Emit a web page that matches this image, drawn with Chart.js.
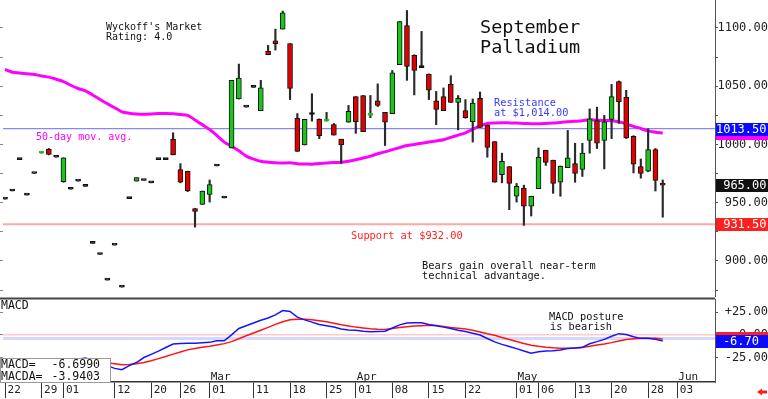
<!DOCTYPE html>
<html>
<head>
<meta charset="utf-8">
<title>September Palladium</title>
<script src="https://cdn.jsdelivr.net/npm/chart.js@4.4.1/dist/chart.umd.min.js"></script>
<style>
html,body{margin:0;padding:0;background:#fff;overflow:hidden;}
#wrap{position:relative;width:768px;height:399px;background:#fff;}
canvas{position:absolute;left:0;display:block;}
#price{top:0;}
#macd{top:297px;}
</style>
</head>
<body>
<div id="wrap">
<canvas id="price" width="768" height="297"></canvas>
<canvas id="macd" width="768" height="102"></canvas>
</div>
<script>
// ---------------- DATA ----------------
const openP = [953,960,987,956.5,975,992.5,996,989,968,961.5,
  968.5,964,915,905.5,883.5,913.5,877.5,953.5,968.5,969,
  967,987,987,1004.5,978.5,977,945,948.5,957,981.5,
  954,997,1039,1032,1049,1029,1080,1089,1099,1086.5,
  1022.5,999.5,1025.7,1021.5,1020,1017,1004.5,1019,1041,1042,
  1025,1037.5,1027.5,1026.5,1068.5,1102,1076.5,1066,1060.5,1037.5,
  1041,1051.5,1036,1029,1019.5,1039.5,1016.5,1002.5,974,981,
  955.5,962.5,947,962,995,986.5,967.5,980,983.5,978.5,
  1003.5,1020.5,1003.5,1021.5,1054,1040.5,1007,981,977,995.5,966.5];
const highP = [953,960,987,956.5,975,993.5,996.5,989,988.5,961.5,
  968.5,964,915,905.5,883.5,913.5,877.5,953.5,971.5,969,
  967,987,987,1010,983.5,977,945,960,969.5,981.5,
  954,1055,1069,1032,1049,1055,1085,1099,1114.5,1086.5,
  1026.5,1021.5,1043.5,1022,1027.5,1018,1004.5,1033.5,1041,1042,
  1042,1052,1027.5,1063.5,1105.5,1115,1077,1097,1060.5,1045.5,
  1048.5,1059,1042,1038.5,1039,1045,1016.5,1002.5,992.5,981,
  966.5,965,955.5,997,995,986.5,981.5,1012,1001,1001,
  1030.5,1032,1025,1051.5,1054.5,1046.5,1007.5,987.5,1013.5,996.5,969.5];
const lowP = [953,960,987,956.5,975,992.5,991,989,967.5,961.5,
  968.5,964,915,905.5,883.5,913.5,877.5,953.5,968.5,969,
  967,987,987,991,967,959.5,929,948.5,950.5,981.5,
  954,997,1039,1032,1049,1029,1077,1081,1099,1038.5,
  994,999.5,1020,1005,1020,1008,983.5,1019,1009.5,1011,
  1023,1032.5,999,1026.5,1068.5,1055,1042.5,1066,1038.5,1017,
  1029,1036,1012.5,1022.5,1002,1014.5,989,967.5,967,944,
  950.5,930.5,938.5,962,982,958,955.5,980,967.5,972.5,
  992.5,996.5,979,1005,1018,1005,975.5,971,976.5,960,937.5];
const closeP = [953,960,987,956.5,975,993.5,991.5,989,988.5,961.5,
  968.5,964,915,905.5,883.5,913.5,877.5,953.5,971.5,969,
  967,987,987,991,967.5,960,942.5,960,965.5,981.5,
  954,1055,1057,1032,1049,1048.5,1077,1086.5,1113,1048,
  994,1021.5,1025.7,1007.5,1021,1008,999.5,1028.5,1019.5,1011,
  1026,1033.5,1019,1061.5,1105.5,1067,1063.5,1066,1046.5,1030,
  1029,1036,1039.5,1023,1035.5,1014.5,997.5,967.5,985.5,966.5,
  964,947,955.5,989,984.5,966.5,981.5,988.5,975,992.5,
  1022,1001,1019.5,1041,1036.5,1005.5,983,975,995.5,969,965];
const ma50 = [1064.3,1062,1061.3,1060.6,1060,1058.8,1057.8,1056,1054,1050.8,
  1048,1046,1042.5,1038.6,1035,1031.5,1028,1026.8,1026.2,1026,
  1026.2,1026.5,1026.6,1026.3,1025.7,1025,1021,1017,1012.8,1007.5,
  1002,998.5,994.5,990,987.5,985.5,984.7,984.2,984,984.2,
  983.5,983.2,983,983.6,984,984.5,984.6,985.6,986.8,988.3,
  990,992,993.6,995.5,997.3,999,1000,1001,1002,1003,
  1004,1006,1008,1010,1013,1016,1018,1018.4,1018.6,1018.5,
  1018.3,1018,1017.8,1017.7,1018,1018.3,1018.9,1019.4,1019.8,1020.3,
  1021.2,1020.8,1020.5,1020.4,1019.5,1017.6,1015.5,1013.7,1011.6,1010.5,1009.7];
const macdLine = [-45,-43,-40,-38,-36,-34,-32,-31,-29,-28,
  -27,-25.5,-28,-31,-34,-37,-38.4,-34,-30.5,-25,
  -21.5,-18,-14,-10.1,-9.6,-9.4,-9.2,-8.8,-8.3,-6.5,
  -6.5,0,7,10,13,16,18.5,22,26.8,25.8,
  19.5,16.5,14,11.4,10,8.6,6.5,5.3,5.1,4,
  3.3,3.6,4,7.5,11,13,13.4,13.4,11.5,10,
  8.5,7,5,3.6,1.8,-0.2,-4,-7.8,-10.5,-12.8,
  -15.2,-17.8,-20.2,-18.6,-17.7,-17.5,-16.6,-15.2,-14.5,-13.8,
  -9.8,-7.5,-5,-1.5,1.3,0.3,-2.2,-3.9,-3.9,-5,-6.7];
const macdSignal = [-40,-39.5,-39,-38.5,-38,-37,-36,-35.5,-34.5,-34,
  -33,-32.5,-32,-31.5,-31,-32,-33,-32.8,-32,-30.5,
  -28.5,-26.2,-23.8,-21.3,-19,-16.6,-15,-13.6,-12.6,-11.2,
  -9.7,-7.5,-4.3,-1,2,5,8.2,11.5,14.5,16.5,
  17.1,17.1,16.6,15.4,14.3,12.8,11.1,9.8,8.5,7.6,
  6.8,6.2,5.9,7,8,8.8,9.6,10.1,10.5,10.2,
  9.1,8,7.2,6.4,5,3.2,1.2,-0.5,-3,-5.2,
  -7.4,-9.5,-11.4,-12.7,-13.6,-14.3,-14.7,-14.8,-14.6,-14,
  -12.7,-11.2,-10,-8.6,-6.8,-5.2,-4.3,-3.9,-3.8,-3.9,-4.5];
const dateTickIndex = [0,5,8,15,20,24,28,34,39,44,48,53,58,63,70,73,78,83,88,92];
const dateTickLabels = ['22','29','01','12','20','26','01','11','18','25','01','08','15','22','01','06','13','20','28','03'];
const monthIndex = [8,28,48,70,92];
const monthLabels = ['Feb','Mar','Apr','May','Jun'];
const priceTickValues = [875,900,925,950,975,1000,1025,1050,1075,1100];
const macdTickValues = [-25,0,25];
const resistanceLevel = 1013.5;
const supportLevel = 931.5;
const lastSettle = 965.0;
const macdLast = -6.6990;
const macdaLast = -3.9403;

// ---------------- LAYOUT / STYLE ----------------
const X_MIN = -0.274, X_MAX = 97.15;
const MONO = '"DejaVu Sans Mono", "Liberation Mono", monospace';
Chart.defaults.font.family = MONO;
Chart.defaults.color = '#222';

const idx = closeP.map((_, i) => i);
const bodyData = idx.map(i => ({x: i, y: [openP[i], closeP[i]]}));
const wickData = idx.map(i => ({x: i, y: [lowP[i], highP[i]]}));
const GREEN = '#1ec41e', RED = '#e00000';
function bodyColor(i) {
  const d = closeP[i] - openP[i];
  if (d > 0) return GREEN;
  if (d < 0) return RED;
  return '#111';
}
function bodyBorder(i) {
  const d = closeP[i] - openP[i];
  if (d > 0 && d < 2) return GREEN;
  return '#111';
}
function txt(ctx, s, x, y, color, size, align) {
  ctx.fillStyle = color;
  ctx.font = size + 'px ' + MONO;
  ctx.textAlign = align || 'left';
  ctx.textBaseline = 'middle';
  ctx.fillText(s, x, y);
}
function axisBox(ctx, y, bg, label, rightX) {
  ctx.fillStyle = bg;
  ctx.fillRect(716, Math.round(y) - 6, 52, 13);
  if (label) txt(ctx, label, rightX, Math.round(y) + 0.5, '#fff', 12, 'right');
}
function hLine(v) { return [{x: X_MIN, y: v}, {x: X_MAX, y: v}]; }

const priceDeco = {
  id: 'priceDeco',
  afterDraw(chart) {
    const ctx = chart.ctx, ys = chart.scales.y;
    ctx.save();
    txt(ctx, "Wyckoff's Market", 106, 27, '#111', 10);
    txt(ctx, 'Rating: 4.0', 106, 37, '#111', 10);
    txt(ctx, 'September', 480, 28.5, '#111', 18.5);
    txt(ctx, 'Palladium', 480, 48, '#111', 18.5);
    txt(ctx, '50-day mov. avg.', 36, 137.5, '#ff00ff', 10);
    txt(ctx, 'Resistance', 494, 103, '#3a3aff', 10.3);
    txt(ctx, 'at $1,014.00', 494, 113, '#3a3aff', 10.3);
    txt(ctx, 'Support at $932.00', 351, 236.3, '#ff2020', 10.3);
    txt(ctx, 'Bears gain overall near-term', 422, 266, '#111', 10.3);
    txt(ctx, 'technical advantage.', 422, 276.3, '#111', 10.3);
    axisBox(ctx, ys.getPixelForValue(ma50[ma50.length - 1]), '#ff00ff', '', 766.5);
    axisBox(ctx, ys.getPixelForValue(resistanceLevel), '#0a0aff', resistanceLevel.toFixed(2), 766.5);
    axisBox(ctx, ys.getPixelForValue(lastSettle), '#111111', lastSettle.toFixed(2), 766.5);
    axisBox(ctx, ys.getPixelForValue(supportLevel), '#ff1f1f', supportLevel.toFixed(2), 766.5);
    ctx.restore();
  }
};

new Chart(document.getElementById('price'), {
  type: 'bar',
  data: {
    datasets: [
      {type: 'bar', data: bodyData, backgroundColor: c => bodyColor(c.dataIndex),
       borderColor: c => bodyBorder(c.dataIndex), borderWidth: 1, borderSkipped: false,
       barThickness: 5, minBarLength: 2, grouped: false, order: 0},
      {type: 'bar', data: wickData, backgroundColor: '#2a2a2a', borderWidth: 0,
       barThickness: 1.5, grouped: false, order: 1},
      {type: 'line', data: ma50.map((v, i) => ({x: i, y: v})), borderColor: '#ff00ff',
       borderWidth: 3, pointRadius: 0, tension: 0.3, order: 2},
      {type: 'line', data: hLine(resistanceLevel), borderColor: '#6b6bff', borderWidth: 1, pointRadius: 0, order: 3},
      {type: 'line', data: hLine(supportLevel), borderColor: '#ffa8a8', borderWidth: 2, pointRadius: 0, order: 4}
    ]
  },
  options: {
    responsive: false, animation: false, devicePixelRatio: 1, events: [],
    layout: {padding: 0, autoPadding: false},
    plugins: {legend: {display: false}, tooltip: {enabled: false}},
    scales: {
      x: {type: 'linear', min: X_MIN, max: X_MAX, display: false, offset: false, grid: {offset: false}},
      y: {type: 'linear', position: 'right', min: 869, max: 1124, beginAtZero: false,
          afterBuildTicks: s => { s.ticks = priceTickValues.map(v => ({value: v})); },
          ticks: {autoSkip: false, padding: -3, crossAlign: 'far', color: '#222', font: {size: 12},
                  callback: v => (v % 50 === 0 ? v.toFixed(2) : '')},
          grid: {drawOnChartArea: false, drawTicks: true, tickLength: 3, color: '#555'},
          border: {display: true, color: '#555', dash: [2, 1], width: 1},
          afterFit: s => { s.width = 53; s.paddingTop = 0; s.paddingBottom = 0; }},
      yl: {type: 'linear', position: 'left', min: 869, max: 1124,
          afterBuildTicks: s => { s.ticks = priceTickValues.map(v => ({value: v})); },
          ticks: {display: false},
          grid: {drawOnChartArea: false, drawTicks: true, tickLength: 3, color: '#888'},
          border: {display: false},
          afterFit: s => { s.width = 3; s.paddingTop = 0; s.paddingBottom = 0; }}
    }
  },
  plugins: [priceDeco]
});

const macdDeco = {
  id: 'macdDeco',
  afterDraw(chart) {
    const ctx = chart.ctx, xs = chart.scales.x, ys = chart.scales.y, area = chart.chartArea;
    ctx.save();
    ctx.fillStyle = '#444';
    ctx.fillRect(0, 0.5, area.right, 2);
    txt(ctx, 'MACD', 1, 9.5, '#111', 11.5);
    txt(ctx, 'MACD posture', 549, 20, '#111', 10.3);
    txt(ctx, 'is bearish', 550, 30.3, '#111', 10.3);
    monthIndex.forEach((m, k) => txt(ctx, monthLabels[k], xs.getPixelForValue(m) + 1, 80.5, '#222', 11));
    ctx.fillStyle = '#fff';
    ctx.fillRect(0, 61, 111, 24);
    ctx.strokeStyle = '#999'; ctx.lineWidth = 1;
    ctx.strokeRect(0.5, 61.5, 110, 24);
    txt(ctx, 'MACD=', 1, 68, '#111', 11.5);
    txt(ctx, macdLast.toFixed(4), 100, 68, '#111', 11.5, 'right');
    txt(ctx, 'MACDA=', 1, 80, '#111', 11.5);
    txt(ctx, macdaLast.toFixed(4), 100, 80, '#111', 11.5, 'right');
    // small red arrow bottom-right
    ctx.fillStyle = '#ff2020';
    ctx.beginPath(); ctx.moveTo(757, 95); ctx.lineTo(762, 91.5); ctx.lineTo(762, 98.5); ctx.closePath(); ctx.fill();
    ctx.fillRect(762, 93.5, 5, 3);
    axisBox(ctx, ys.getPixelForValue(macdaLast), '#ff1f1f', '', 759);
    axisBox(ctx, ys.getPixelForValue(macdLast), '#0a0aff', macdLast.toFixed(2), 759);
    ctx.restore();
  }
};

new Chart(document.getElementById('macd'), {
  type: 'line',
  data: {
    datasets: [
      {data: macdLine.map((v, i) => ({x: i, y: v})), borderColor: '#1414ff', borderWidth: 1.5, pointRadius: 0, order: 0},
      {data: macdSignal.map((v, i) => ({x: i, y: v})), borderColor: '#ff1414', borderWidth: 1.5, pointRadius: 0, order: 1},
      {data: hLine(0), borderColor: '#ffb0b0', borderWidth: 1, pointRadius: 0, order: 2},
      {data: hLine(macdaLast), borderColor: '#d6d6ff', borderWidth: 3, pointRadius: 0, order: 3}
    ]
  },
  options: {
    responsive: false, animation: false, devicePixelRatio: 1, events: [],
    layout: {padding: {top: 2, left: 0, right: 0, bottom: 0}, autoPadding: false},
    plugins: {legend: {display: false}, tooltip: {enabled: false}},
    scales: {
      x: {type: 'linear', position: 'bottom', min: X_MIN, max: X_MAX, offset: false,
          afterBuildTicks: s => { s.ticks = dateTickIndex.map(v => ({value: v})); },
          ticks: {autoSkip: false, maxRotation: 0, minRotation: 0, align: 'start', labelOffset: 2.5,
                  padding: -14, color: '#222', font: {size: 11},
                  callback: (v, i) => dateTickLabels[i]},
          grid: {drawOnChartArea: false, drawTicks: true, tickLength: 16, color: '#333', lineWidth: 1, offset: false},
          border: {display: true, color: '#333', width: 1.5},
          afterFit: s => { s.height = 17; s.paddingLeft = 0; s.paddingRight = 0; }},
      y: {type: 'linear', position: 'right', min: -52, max: 39.5,
          afterBuildTicks: s => { s.ticks = macdTickValues.map(v => ({value: v})); },
          ticks: {autoSkip: false, padding: -2.5, crossAlign: 'far', color: '#222', font: {size: 12},
                  callback: v => (v > 0 ? '+' : '') + v.toFixed(2)},
          grid: {drawOnChartArea: false, drawTicks: true, tickLength: 3, color: '#555'},
          border: {display: true, color: '#555', dash: [2, 1], width: 1},
          afterFit: s => { s.width = 53; s.paddingTop = 0; s.paddingBottom = 0; }},
      yl: {type: 'linear', position: 'left', min: -52, max: 39.5,
          afterBuildTicks: s => { s.ticks = macdTickValues.map(v => ({value: v})); },
          ticks: {display: false},
          grid: {drawOnChartArea: false, drawTicks: true, tickLength: 3, color: '#888'},
          border: {display: false},
          afterFit: s => { s.width = 3; s.paddingTop = 0; s.paddingBottom = 0; }}
    }
  },
  plugins: [macdDeco]
});
</script>
</body>
</html>
